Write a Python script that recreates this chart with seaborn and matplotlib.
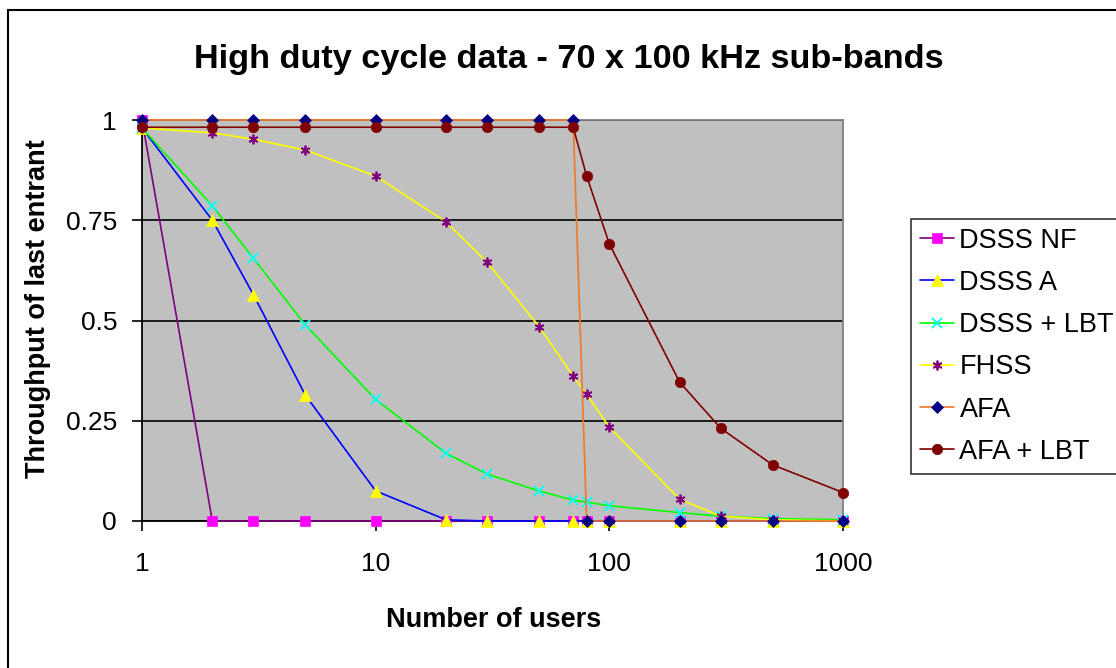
import pandas as pd
import seaborn as sns
import matplotlib.pyplot as plt
from matplotlib.patches import Rectangle

# Data
users = [1, 2, 3, 5, 10, 20, 30, 50, 70, 80, 100, 200, 300, 500, 1000]
dsss_nf = [1.0, 0, 0, 0, 0, 0, 0, 0, 0, 0, 0, 0, 0, 0, 0]
dsss_a = [0.98, 0.75, 0.564, 0.314, 0.075, 0.003, 0, 0, 0, 0, 0, 0, 0, 0, 0]
dsss_lbt = [0.98, 0.786, 0.655, 0.489, 0.303, 0.169, 0.117, 0.075, 0.052, 0.047, 0.038, 0.021, 0.012, 0.006, 0.003]
fhss = [0.98, 0.968, 0.952, 0.925, 0.86, 0.746, 0.645, 0.485, 0.361, 0.316, 0.234, 0.054, 0.012, 0.003, 0.0]
afa = [1.0, 1.0, 1.0, 1.0, 1.0, 1.0, 1.0, 1.0, 1.0, 0, 0, 0, 0, 0, 0]
afa_lbt = [0.982, 0.982, 0.982, 0.982, 0.982, 0.982, 0.982, 0.982, 0.982, 0.86, 0.691, 0.346, 0.231, 0.14, 0.071]

series_names = ["DSSS NF", "DSSS A", "DSSS + LBT", "FHSS", "AFA", "AFA + LBT"]
series_values = [dsss_nf, dsss_a, dsss_lbt, fhss, afa, afa_lbt]

x_ticks = [1, 10, 100, 1000]
x_ticklabels = ["1", "10", "100", "1000"]
y_ticks = [0, 0.25, 0.5, 0.75, 1]
y_ticklabels = ["0", "0.25", "0.5", "0.75", "1"]

# line colour, marker, marker colour, marker size
styles = {
    "DSSS NF": ("#800080", "s", "#FF00FF", 6.5),
    "DSSS A": ("#0000FF", "^", "#FFFF00", 8),
    "DSSS + LBT": ("#00FF00", "x", "#00FFFF", 6.5),
    "FHSS": ("#FFFF00", (6, 2, 0), "#800080", 7),
    "AFA": ("#F07828", "D", "#000080", 6),
    "AFA + LBT": ("#800000", "o", "#800000", 7.5),
}

df = pd.DataFrame({
    "users": users * len(series_names),
    "throughput": sum(series_values, []),
    "series": [n for n in series_names for _ in users],
})

sns.set_style("white")
plt.rcParams['font.family'] = ['Liberation Sans', 'DejaVu Sans']
plt.rcParams['text.color'] = 'black'
plt.rcParams['xtick.color'] = 'black'
plt.rcParams['ytick.color'] = 'black'
plt.rcParams['axes.labelcolor'] = 'black'

fig = plt.figure(figsize=(11.16, 6.68), dpi=100)
ax = fig.add_axes([142 / 1116, 1 - 521 / 668, (843 - 142) / 1116, (521 - 120) / 668])
ax.set_facecolor("#C0C0C0")

for name in series_names:
    lc, mk, mc, ms = styles[name]
    sns.lineplot(data=df[df.series == name], x="users", y="throughput", ax=ax,
                 color=lc, marker=mk, markersize=ms, markerfacecolor=mc,
                 markeredgecolor=mc, markeredgewidth=1.3 if mk in ("x", (6, 2, 0)) else 0.5,
                 linewidth=1.2, label=name, errorbar=None, clip_on=False, zorder=3)

ax.set_xscale("log")
ax.set_xlim(1, 1000)
ax.set_ylim(0, 1)
ax.set_xticks(x_ticks)
ax.set_xticklabels(x_ticklabels)
ax.minorticks_off()
ax.set_yticks(y_ticks)
ax.set_yticklabels(y_ticklabels)
ax.yaxis.grid(True, color="black", linewidth=1.2)
ax.set_axisbelow(True)
ax.tick_params(axis="x", direction="out", length=7, width=1.2, pad=15, labelsize=19,
               color="black", labelcolor="black", bottom=True)
ax.tick_params(axis="y", direction="out", length=7, width=1.2, pad=11, labelsize=19,
               color="black", labelcolor="black", left=True)
for s in ["left", "bottom"]:
    ax.spines[s].set_color("black")
    ax.spines[s].set_linewidth(1.3)
for s in ["top", "right"]:
    ax.spines[s].set_color("#808080")
    ax.spines[s].set_linewidth(1.3)
ax.set_xlabel("")
ax.set_ylabel("")

fig.text(569 / 1116, 1 - 68 / 668, "High duty cycle data - 70 x 100 kHz sub-bands",
         ha="center", va="baseline", fontsize=24.7, fontweight="bold", color="black")
fig.text(494 / 1116, 1 - 627 / 668, "Number of users", ha="center", va="baseline",
         fontsize=19.5, fontweight="bold", color="black")
fig.text(38 / 1116, 1 - 309 / 668, "Throughput of last entrant", ha="center", va="center",
         rotation=90, fontsize=19.5, fontweight="bold", color="black")

ax.get_legend().remove()
handles, labels = ax.get_legend_handles_labels()
leg = fig.legend(handles, labels, loc="upper left", bbox_to_anchor=(911 / 1116, 1 - 219 / 668),
                 fontsize=19.5, frameon=True, fancybox=False, edgecolor="black",
                 handlelength=1.25, handletextpad=0.22, labelspacing=0.6, borderpad=0.32,
                 borderaxespad=0, labelcolor="black")
leg.get_frame().set_linewidth(1.2)

fig.patches.append(Rectangle((8 / 1116, -0.1), 1.2, 1.1 - 10 / 668, transform=fig.transFigure,
                             fill=False, edgecolor="black", linewidth=1.5))

fig.savefig("out.png", dpi=100)
